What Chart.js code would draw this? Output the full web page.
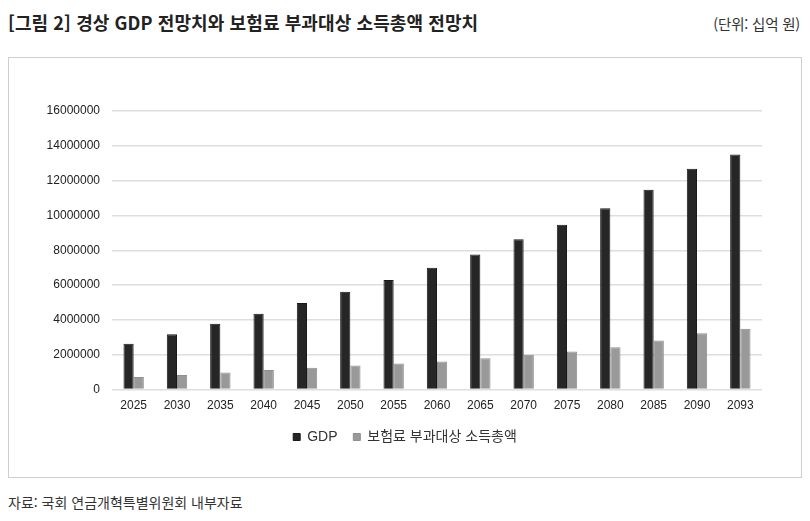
<!DOCTYPE html>
<html lang="ko">
<head>
<meta charset="utf-8">
<script src="https://cdn.jsdelivr.net/npm/chart.js@4/dist/chart.umd.min.js"></script>
<style>
  html, body { margin: 0; padding: 0; background: #fff; }
  body { width: 810px; height: 521px; position: relative; overflow: hidden; }
  #title { position: absolute; left: 8px; top: 9px; font: bold 18px "Noto Sans CJK KR", sans-serif; color: #222; letter-spacing: 0.1px; }
  #unit { position: absolute; right: 10px; top: 13px; font: 14.5px "Noto Sans CJK KR", sans-serif; color: #333; letter-spacing: -0.2px; }
  #box { position: absolute; left: 8px; top: 57px; width: 792px; height: 419px; border: 1px solid #cfcfcf; }
  #source { position: absolute; left: 8px; top: 492px; font: 14px "Noto Sans CJK KR", sans-serif; color: #333; letter-spacing: 0px; }
</style>
</head>
<body>
<div id="title">[그림 2] 경상 GDP 전망치와 보험료 부과대상 소득총액 전망치</div>
<div id="unit">(단위: 십억 원)</div>
<div id="box"><canvas id="chart-canvas" width="792" height="419"></canvas></div>
<div id="source">자료: 국회 연금개혁특별위원회 내부자료</div>
<script>
"use strict";
const years = ["2025", "2030", "2035", "2040", "2045", "2050", "2055", "2060", "2065", "2070", "2075", "2080", "2085", "2090", "2093"];
const gdpValues = [2630000, 3180000, 3780000, 4350000, 4980000, 5620000, 6290000, 7000000, 7760000, 8630000, 9470000, 10410000, 11480000, 12690000, 13500000];
const incomeValues = [730000, 840000, 980000, 1130000, 1260000, 1380000, 1500000, 1610000, 1800000, 2000000, 2190000, 2430000, 2820000, 3240000, 3490000];
const yTicks = [0, 2000000, 4000000, 6000000, 8000000, 10000000, 12000000, 14000000, 16000000];

function createChart() {
    let canvas = document.getElementById("chart-canvas");
    let ctx = canvas.getContext("2d");
    if (ctx === null) {
        console.error("failed to create canvas context");
        return;
    }
    new Chart(ctx, {
        type: "bar",
        data: {
            labels: years,
            datasets: [
                {
                    label: "GDP  ",
                    data: gdpValues,
                    backgroundColor: "#262626",
                    borderColor: "#1a1a1a",
                    borderWidth: 1,
                },
                {
                    label: "보험료 부과대상 소득총액",
                    data: incomeValues,
                    backgroundColor: "#999999",
                    borderColor: "#8f8f8f",
                    borderWidth: 1,
                },
            ],
        },
        options: {
            responsive: false,
            animation: false,
            devicePixelRatio: 1,
            categoryPercentage: 0.47,
            barPercentage: 1.0,
            layout: {
                padding: { left: 0, right: 0, top: 53, bottom: 23 },
            },
            plugins: {
                legend: {
                    position: "bottom",
                    labels: {
                        boxWidth: 7,
                        boxHeight: 7,
                        padding: 8,
                        color: "#333",
                        font: { family: "'Liberation Sans', 'Noto Sans CJK KR', sans-serif", size: 14 },
                    },
                },
                tooltip: { enabled: false },
            },
            scales: {
                x: {
                    grid: { display: false, drawTicks: false },
                    border: { display: false },
                    ticks: {
                        padding: 9,
                        color: "#222",
                        maxRotation: 0,
                        font: { family: "'Liberation Sans', Arial, sans-serif", size: 12 },
                    },
                },
                y: {
                    min: 0,
                    max: 16000000,
                    afterBuildTicks: (scale) => {
                        scale.ticks = yTicks.map(v => ({ value: v }));
                    },
                    afterFit: (scale) => {
                        scale.width = 103;
                    },
                    grid: { color: "#dedede", lineWidth: 1.5, drawTicks: false },
                    border: { display: false },
                    ticks: {
                        padding: 12,
                        color: "#222",
                        font: { family: "'Liberation Sans', Arial, sans-serif", size: 12 },
                        callback: (v) => String(v),
                    },
                },
                // empty right axis, only keeps the right margin so the legend stays centred in the box
                yRight: {
                    position: "right",
                    min: 0,
                    max: 16000000,
                    grid: { display: false, drawTicks: false },
                    border: { display: false },
                    ticks: { display: false },
                    afterFit: (scale) => {
                        scale.width = 39;
                    },
                },
            },
        },
    });
}
document.addEventListener("DOMContentLoaded", createChart);
</script>
</body>
</html>
